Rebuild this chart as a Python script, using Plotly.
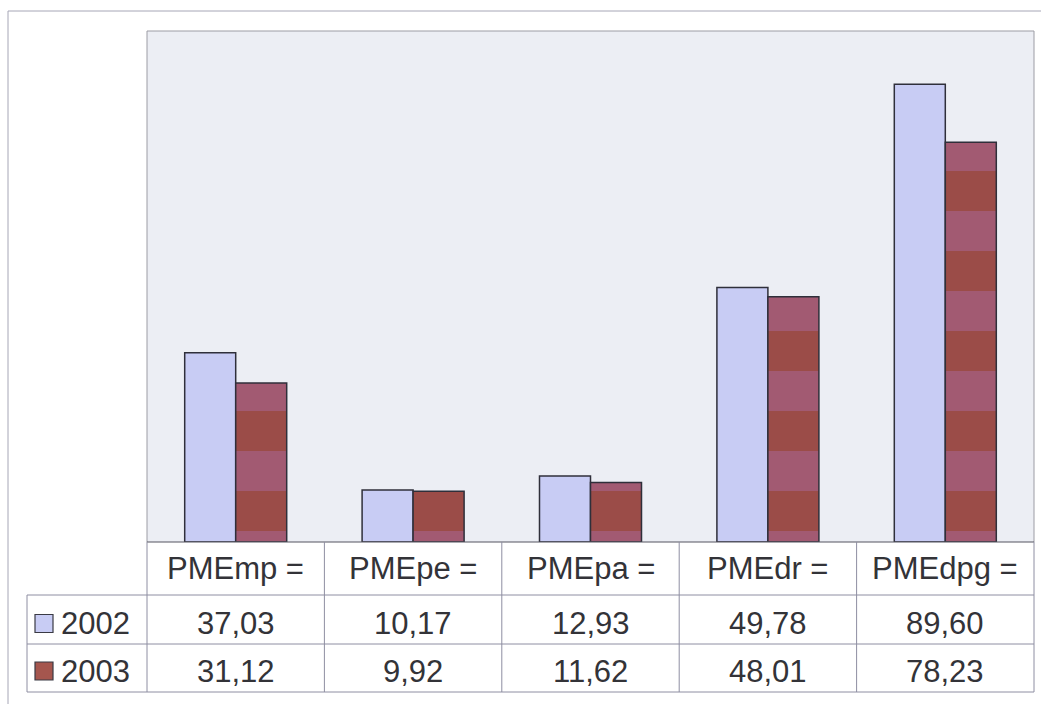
import plotly.graph_objects as go

# Series data
categories = ["PMEmp =", "PMEpe =", "PMEpa =", "PMEdr =", "PMEdpg ="]
years = ["2002", "2003"]
values_2002 = [37.03, 10.17, 12.93, 49.78, 89.60]
values_2003 = [31.12, 9.92, 11.62, 48.01, 78.23]

W, H = 1041, 704


def px(x):
    return x / W


def py(y):
    return 1 - y / H


# Plot-area and table geometry (pixels)
PL, PR, PT, PB = 147, 1034, 31, 542
ROW1, ROW2, ROW3 = 595, 644, 692
LEG_L = 27

COL_2002 = "#C8CCF4"
COL_2003 = "#9B4C48"
COL_2003_BAND = "#A25A72"
EDGE = "#2f2f3a"
GRID = "#8e8ea2"
TEXT = "#333338"
FONT = "Liberation Sans, Arial, sans-serif"

fig = go.Figure()
fig.add_trace(go.Bar(
    x=categories, y=values_2002, name=years[0],
    marker=dict(color=COL_2002, line=dict(color=EDGE, width=1.5)),
))
fig.add_trace(go.Bar(
    x=categories, y=values_2003, name=years[1],
    marker=dict(
        color=COL_2003, line=dict(color=EDGE, width=1.5),
        pattern=dict(shape="-", fgcolor=COL_2003_BAND, bgcolor=COL_2003,
                     size=80, solidity=0.5, fillmode="replace"),
    ),
))

shapes = []
annotations = []


def hline(y, x0, x1, color=GRID, width=1):
    shapes.append(dict(type="line", xref="paper", yref="paper",
                       x0=px(x0), x1=px(x1), y0=py(y), y1=py(y),
                       line=dict(color=color, width=width)))


def vline(x, y0, y1, color=GRID, width=1, xref="paper"):
    xv = px(x) if xref == "paper" else x
    shapes.append(dict(type="line", xref=xref, yref="paper",
                       x0=xv, x1=xv, y0=py(y0), y1=py(y1),
                       line=dict(color=color, width=width)))


# Outer chart frame
hline(11, 8, W + 5, color="#a6a6b6")
vline(8, 11, H + 5, color="#a6a6b6")

# Plot-area frame
hline(PT, PL, PR, color="#9c9ca4")
vline(PL, PT, PB, color="#9c9ca4")
vline(PR, PT, PB, color="#9c9ca4")
hline(PB, PL, PR, color="#555560", width=1.2)

# Data table grid
hline(ROW1, LEG_L, PR)
hline(ROW2, LEG_L, PR)
hline(ROW3, LEG_L, PR)
vline(LEG_L, ROW1, ROW3)
vline(PL, PB, ROW3)
vline(PR, PB, ROW3)
for i in range(len(categories) - 1):
    vline(i + 0.5, PB, ROW3, xref="x")

font = dict(family=FONT, size=31, color=TEXT)


def fmt(v):
    return f"{v:.2f}".replace(".", ",")


header_y = (PB + ROW1) / 2
row_y = [(ROW1 + ROW2) / 2 + 4, (ROW2 + ROW3) / 2 + 3]

for cat in categories:
    annotations.append(dict(x=cat, y=py(header_y), xref="x", yref="paper",
                            text=cat, showarrow=False, font=font,
                            xanchor="center", yanchor="middle"))

for row, vals in enumerate([values_2002, values_2003]):
    for cat, v in zip(categories, vals):
        annotations.append(dict(x=cat, y=py(row_y[row]), xref="x", yref="paper",
                                text=fmt(v), showarrow=False, font=font,
                                xanchor="center", yanchor="middle"))

# Legend keys inside the table's first column
for row, (yr, col) in enumerate(zip(years, [COL_2002, "#A5564E"])):
    cy = row_y[row]
    shapes.append(dict(type="rect", xref="paper", yref="paper",
                       x0=px(35), x1=px(53), y0=py(cy + 9), y1=py(cy - 9),
                       fillcolor=col, line=dict(color="#3a3a44", width=1.2)))
    annotations.append(dict(x=px(59), y=py(cy), xref="paper", yref="paper",
                            text=yr, showarrow=False, font=font,
                            xanchor="left", yanchor="middle"))

fig.update_layout(
    width=W, height=H,
    margin=dict(l=0, r=0, t=0, b=0),
    paper_bgcolor="white",
    plot_bgcolor="#ECEEF4",
    showlegend=False,
    barmode="group",
    bargap=0.425,
    bargroupgap=0,
    xaxis=dict(domain=[px(PL), px(PR)], range=[-0.5, 4.5],
               showticklabels=False, showgrid=False, zeroline=False,
               showline=False, ticks=""),
    yaxis=dict(domain=[py(PB), py(PT)], range=[0, 100],
               showticklabels=False, showgrid=False, zeroline=False,
               showline=False, ticks=""),
    shapes=shapes,
    annotations=annotations,
)

fig.write_html("out.html")
